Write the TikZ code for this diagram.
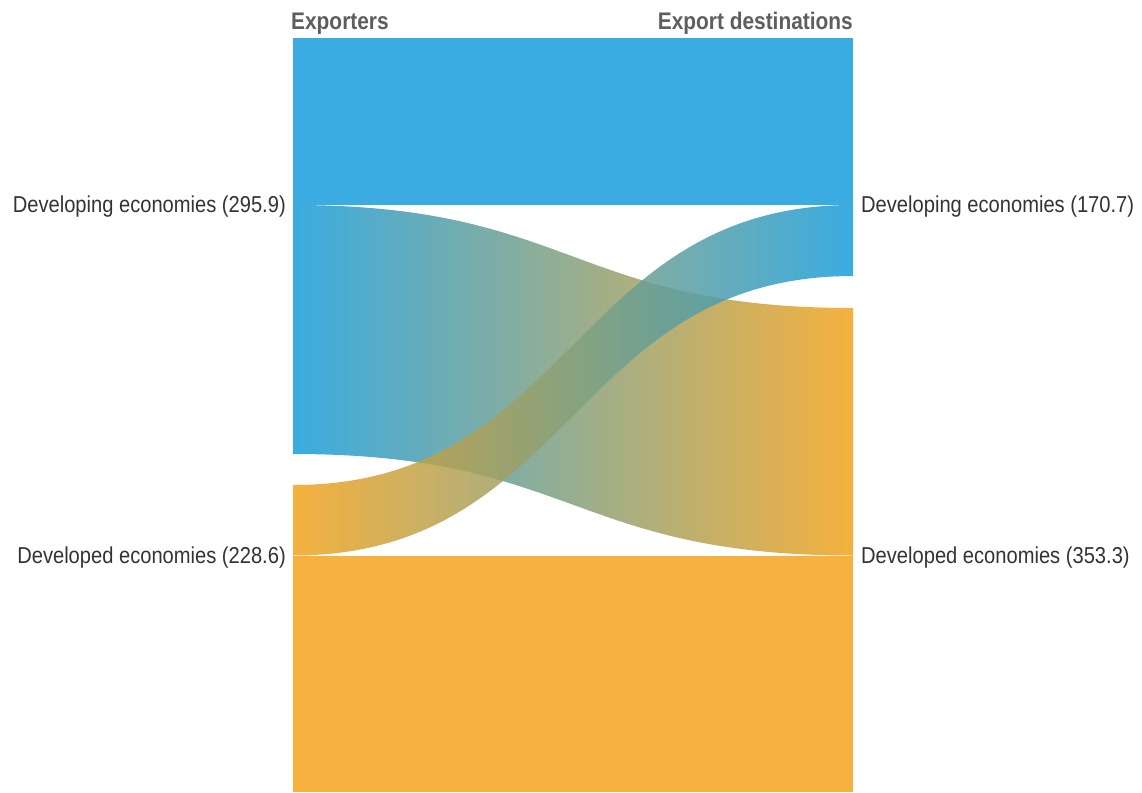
\documentclass[tikz,border=0pt]{standalone}
\usepackage{fontspec}
\setmainfont{Liberation Sans}[FakeStretch=0.875]
\newfontfamily\headfont{Liberation Sans}[FakeStretch=0.87]
\definecolor{blueT}{RGB}{58,172,225}
\definecolor{orangeT}{RGB}{246,177,62}
\definecolor{blueA}{RGB}{23,157,220}
\definecolor{orangeA}{RGB}{244,163,28}
\definecolor{labelC}{RGB}{51,51,51}
\definecolor{headC}{RGB}{93,94,96}
\tikzset{
  lbl/.style={inner sep=0pt, font=\fontsize{23}{27}\selectfont, text=labelC},
  head/.style={inner sep=0pt, font=\headfont\fontsize{24}{28}\selectfont\bfseries, text=headC},
  flowband/.style={fill opacity=0.85}
}
\begin{document}
\begin{tikzpicture}[x=1pt,y=-1pt]
\useasboundingbox (0,0) rectangle (1142,792);
% straight bands
\fill[blueT] (293,38) rectangle (853,205);
\fill[orangeT] (293,555.5) rectangle (853,792);
% developing -> developed
\begin{scope}
\clip (293,205) .. controls (573,205) and (573,308) .. (853,308) -- (853,555.5)
  .. controls (573,555.5) and (573,454) .. (293,454) -- cycle;
\shade[flowband, left color=blueA, right color=orangeA] (292,200) rectangle (854,560);
\end{scope}
% developed -> developing
\begin{scope}
\clip (293,485) .. controls (573,485) and (573,205) .. (853,205) -- (853,276)
  .. controls (573,276) and (573,555.5) .. (293,555.5) -- cycle;
\shade[flowband, left color=orangeA, right color=blueA] (292,200) rectangle (854,560);
\end{scope}
% headers
\node[head, anchor=base west] (hexp) at (291,30) {Exporters};
\node[head, anchor=base east] (hdest) at (853,30) {Export destinations};
% labels
\node[lbl, anchor=base east] (ldev) at (286,212) {Developing economies (295.9)};
\node[lbl, anchor=base east] (ldvd) at (286,563) {Developed economies (228.6)};
\node[lbl, anchor=base west] (rdev) at (861,212) {Developing economies (170.7)};
\node[lbl, anchor=base west] (rdvd) at (861,563) {Developed economies (353.3)};
\end{tikzpicture}
\end{document}
